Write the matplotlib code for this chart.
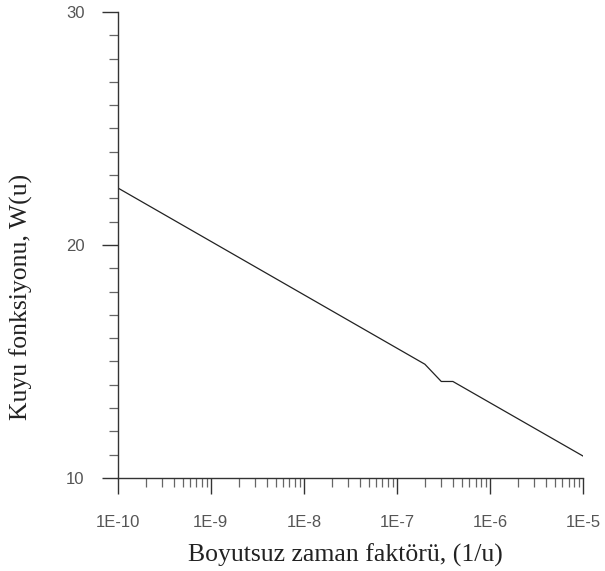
import matplotlib
matplotlib.use('Agg')
import matplotlib.pyplot as plt
from matplotlib.ticker import LogLocator, MultipleLocator, FixedLocator
import numpy as np

# data
u_vals = [1e-10, 2e-7, 3e-7, 4e-7, 1e-5]
w_vals = [22.45, 14.88, 14.14, 14.14, 10.94]
x_ticks = [1e-10, 1e-9, 1e-8, 1e-7, 1e-6, 1e-5]
x_tick_labels = ['1E-10', '1E-9', '1E-8', '1E-7', '1E-6', '1E-5']
y_ticks = [10, 20, 30]

fig = plt.figure(figsize=(6.05, 5.71), dpi=100)
ax = fig.add_axes([0.1946, 0.163, 0.769, 0.816])

ax.plot(u_vals, w_vals, color='#222222', lw=0.9)

ax.set_xscale('log')
ax.set_xlim(1e-10, 1e-5)
ax.set_ylim(10, 30)

ax.xaxis.set_major_locator(FixedLocator(x_ticks))
ax.set_xticklabels(x_tick_labels)
ax.xaxis.set_minor_locator(LogLocator(base=10, subs=np.arange(2, 10), numticks=100))
ax.xaxis.set_minor_formatter(plt.NullFormatter())
ax.yaxis.set_major_locator(FixedLocator(y_ticks))
ax.yaxis.set_minor_locator(MultipleLocator(1))

for s in ['top', 'right']:
    ax.spines[s].set_visible(False)
for s in ['left', 'bottom']:
    ax.spines[s].set_color('#333333')
    ax.spines[s].set_linewidth(1.0)

ax.tick_params(which='major', direction='out', length=11.5, width=1.0,
               color='#333333', labelcolor='#555555', labelsize=12,
               labelfontfamily='Liberation Sans')
ax.tick_params(which='minor', direction='out', length=6.5, width=0.9, color='#666666')
ax.tick_params(axis='x', which='major', pad=15)
ax.tick_params(axis='y', which='major', pad=12.5)

ax.set_xlabel('Boyutsuz zaman faktörü, (1/u)', family='Liberation Serif',
              fontsize=18.5, color='#222222', va='baseline')
ax.set_ylabel('Kuyu fonksiyonu, W(u)', family='Liberation Serif',
              fontsize=18.5, color='#222222', va='baseline')
ax.xaxis.set_label_coords(0.4885, -0.180)
ax.yaxis.set_label_coords(-0.194, 0.389)

fig.savefig('out.png', dpi=100)
